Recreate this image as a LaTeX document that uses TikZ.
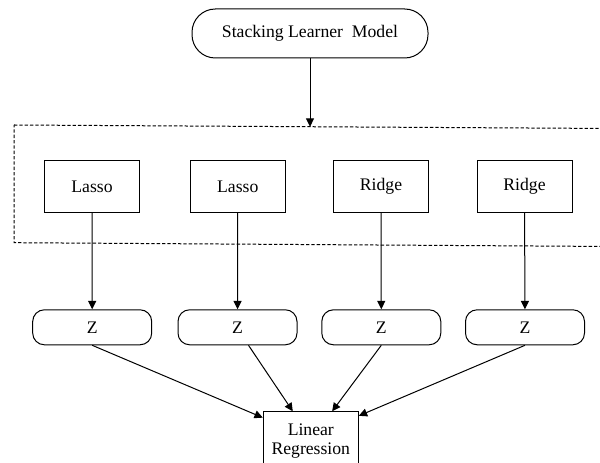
\documentclass[tikz,border=0pt]{standalone}
\usepackage{fontspec}
\setmainfont{Liberation Serif}
\usetikzlibrary{arrows.meta,positioning}
\newcommand{\labelfont}{\fontsize{10.6}{12.4}\selectfont}
\tikzset{
  model/.style  = {draw,rounded corners=14pt,minimum width=141.6pt,
                   minimum height=29.4pt,inner sep=2pt,font=\labelfont},
  learner/.style= {draw,minimum width=57pt,minimum height=31.2pt,
                   inner sep=2pt,font=\labelfont},
  zbox/.style   = {draw,rounded corners=7pt,minimum width=71.4pt,
                   minimum height=21pt,inner sep=2pt,font=\labelfont},
  meta/.style   = {draw,minimum width=57pt,minimum height=35pt,
                   align=center,inner sep=2pt,font=\labelfont},
  arrow/.style  = {-{Triangle[length=5pt,width=4.8pt]},line width=0.6pt},
  frame/.style  = {line width=0.6pt,dash pattern=on 2pt off 1.2pt},
}

\begin{document}
\begin{tikzpicture}[x=0.6pt,y=-0.6pt,line width=0.6pt]
  \useasboundingbox (0,0) rectangle (600,463);
  \clip (0,0) rectangle (600,463);

  % top model
  \node[model] (stack) at (310,33.5) {Stacking Learner\ \ Model};

  % dashed frame round the base learners
  \draw[frame] (14,125) -- (612,128.5) -- (612,246.5) -- (14,242.7) -- cycle;
  \coordinate (frametop) at (310,126.8);
  \draw[arrow] (stack) -- (frametop);

  % base learners
  \node[learner] (lasso1) at (92,186.7)  {Lasso};
  \node[learner] (lasso2) at (237.8,186.7) {Lasso};
  \node[learner] (ridge1) at (381,186.7) {Ridge};
  \node[learner] (ridge2) at (524.5,186.7) {Ridge};

  % outputs
  \node[zbox] (z1) at (92.2,327.3)  {Z};
  \node[zbox] (z2) at (237.5,327.3) {Z};
  \node[zbox] (z3) at (381.3,327.3) {Z};
  \node[zbox] (z4) at (525,327.3)   {Z};

  \draw[arrow] (lasso1) -- (z1);
  \draw[arrow] (lasso2) -- (z2);
  \draw[arrow] (ridge1) -- (z3);
  \draw[arrow] (ridge2) -- (z4);

  % meta learner
  \node[meta] (linreg) at (310.8,441) {Linear\\[-1pt]Regression};

  \draw[arrow] (z1.south) -- ([yshift=-3.8pt]linreg.north west);
  \draw[arrow] ([xshift=6.6pt]z2.south) -- ([xshift=18pt]linreg.north west);
  \draw[arrow] (z3.south) -- ([xshift=-16pt]linreg.north east);
  \draw[arrow] (z4.south) -- ([yshift=-2.7pt]linreg.north east);
\end{tikzpicture}
\end{document}
